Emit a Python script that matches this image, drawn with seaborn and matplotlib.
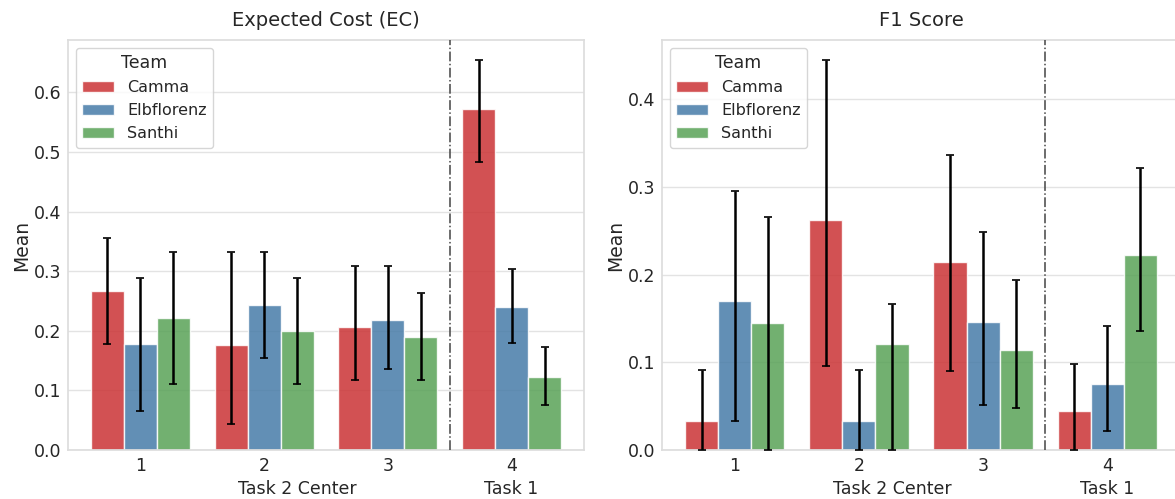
import numpy as np
import pandas as pd
import matplotlib
matplotlib.use("Agg")
import matplotlib.pyplot as plt
import matplotlib.transforms as mtransforms
import seaborn as sns

# Categories
centers = ["1", "2", "3", "4"]
teams = ["Camma", "Elbflorenz", "Santhi"]

# Expected Cost: mean and CI bounds per team (one value per center)
ec_mean = {
    "Camma":      [0.266, 0.176, 0.207, 0.572],
    "Elbflorenz": [0.177, 0.243, 0.218, 0.240],
    "Santhi":     [0.221, 0.199, 0.189, 0.123],
}
ec_low = {
    "Camma":      [0.177, 0.044, 0.118, 0.483],
    "Elbflorenz": [0.066, 0.155, 0.136, 0.179],
    "Santhi":     [0.111, 0.111, 0.118, 0.075],
}
ec_high = {
    "Camma":      [0.356, 0.332, 0.308, 0.655],
    "Elbflorenz": [0.288, 0.332, 0.308, 0.303],
    "Santhi":     [0.332, 0.288, 0.263, 0.172],
}

# F1 Score: mean and CI bounds per team
f1_mean = {
    "Camma":      [0.033, 0.262, 0.214, 0.044],
    "Elbflorenz": [0.170, 0.033, 0.146, 0.075],
    "Santhi":     [0.145, 0.121, 0.114, 0.222],
}
f1_low = {
    "Camma":      [0.000, 0.096, 0.090, 0.000],
    "Elbflorenz": [0.033, 0.000, 0.051, 0.022],
    "Santhi":     [0.000, 0.000, 0.048, 0.136],
}
f1_high = {
    "Camma":      [0.091, 0.445, 0.336, 0.098],
    "Elbflorenz": [0.295, 0.091, 0.249, 0.141],
    "Santhi":     [0.266, 0.166, 0.194, 0.321],
}

# Group captions under the x axis
group_labels = ["Task 2 Center", "Task 1"]
group_label_x = [1.27, 3.0]

sns.set_theme(style="whitegrid")
plt.rcParams["font.family"] = ["DejaVu Sans"]
plt.rcParams["grid.color"] = "#e3e3e3"


def long_table(mean, low, high):
    rows = []
    for t in teams:
        for i, c in enumerate(centers):
            rows.append({"Center": c, "Team": t, "Mean": mean[t][i],
                         "low": low[t][i], "high": high[t][i]})
    return pd.DataFrame(rows)


def draw_panel(ax, mean, low, high, title):
    df = long_table(mean, low, high)
    sns.barplot(data=df, x="Center", y="Mean", hue="Team", order=centers,
                hue_order=teams, palette="Set1", alpha=0.85, errorbar=None,
                edgecolor="white", linewidth=1.0, ax=ax)
    # confidence intervals on each bar
    for container, t in zip(ax.containers, teams):
        for patch, c in zip(container.patches, centers):
            row = df[(df.Team == t) & (df.Center == c)].iloc[0]
            xc = patch.get_x() + patch.get_width() / 2
            yv = patch.get_height()
            ax.errorbar(xc, yv, yerr=[[yv - row.low], [row.high - yv]],
                        fmt="none", ecolor="black", elinewidth=1.8,
                        capsize=2.7, capthick=1.2, zorder=5)
    ax.axvline(2.5, color="#444444", linestyle="-.", linewidth=1.1, zorder=4)
    ax.set_xlim(-0.585, 3.585)
    ax.set_ylim(bottom=0)
    ax.set_title(title, fontsize=14, pad=10)
    ax.set_xlabel("")
    ax.set_ylabel("Mean", fontsize=13.5, labelpad=2)
    ax.tick_params(axis="both", labelsize=12.5, length=0, pad=5)
    trans = mtransforms.blended_transform_factory(ax.transData, ax.transAxes)
    for lbl, xpos in zip(group_labels, group_label_x):
        ax.text(xpos, -0.095, lbl, transform=trans, ha="center",
                va="center", fontsize=12.5, color="#262626")
    ax.legend(title="Team", loc="upper left", fontsize=11.5,
              title_fontsize=12.5)
    for s in ax.spines.values():
        s.set_color("#dddddd")


fig = plt.figure(figsize=(11.75, 4.99), dpi=100)
ax1 = fig.add_axes([68 / 1175, 49 / 499, 516 / 1175, 410 / 499])
ax2 = fig.add_axes([662 / 1175, 49 / 499, 518 / 1175, 410 / 499])

draw_panel(ax1, ec_mean, ec_low, ec_high, "Expected Cost (EC)")
draw_panel(ax2, f1_mean, f1_low, f1_high, "F1 Score")

fig.savefig("out.png", dpi=100)
